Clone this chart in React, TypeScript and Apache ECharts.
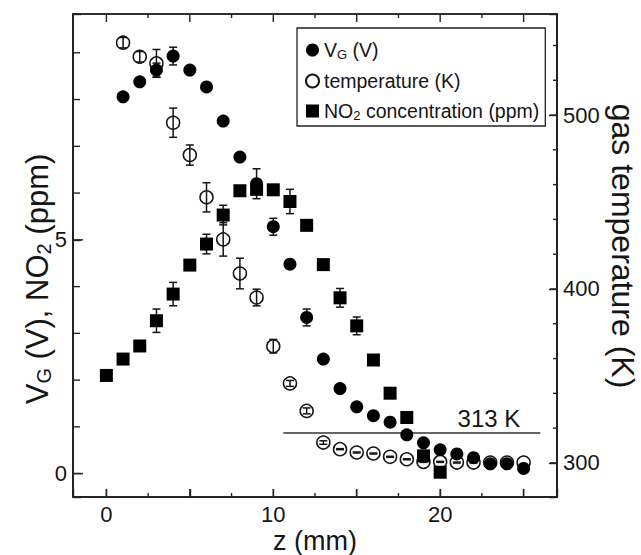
import { useEffect, useRef } from 'react';
import * as echarts from 'echarts';

const FONT = "'Liberation Sans', Arial, Helvetica, sans-serif";
const INK = '#151515';
const AXIS = '#222222';

// z positions (mm) and values
const vgZ = [1, 2, 3, 4, 5, 6, 7, 8, 9, 10, 11, 12, 13, 14, 15, 16, 17, 18, 19, 20, 21, 22, 23, 24, 25];
const vgValues = [8.06, 8.38, 8.63, 8.93, 8.63, 8.27, 7.54, 6.77, 6.2, 5.28, 4.48, 3.34, 2.45, 1.82, 1.43, 1.24, 1.1, 0.83, 0.66, 0.51, 0.42, 0.34, 0.21, 0.21, 0.11];
const vgErrors = [0, 0, 0.15, 0.19, 0, 0, 0, 0, 0.32, 0.18, 0, 0.18, 0, 0, 0, 0, 0, 0, 0, 0, 0, 0, 0, 0, 0];

const tempZ = [1, 2, 3, 4, 5, 6, 7, 8, 9, 10, 11, 12, 13, 14, 15, 16, 17, 18, 19, 20, 21, 22, 23, 24, 25];
const tempValues = [541.6, 533.5, 529.7, 495.6, 477.0, 452.7, 428.5, 408.9, 395.1, 367.1, 345.7, 329.9, 311.7, 307.9, 306.0, 305.4, 303.5, 302.1, 300.6, 300.6, 300.2, 300.2, 300.2, 300.2, 300.2];
const tempErrors = [3, 3, 8, 8.4, 5.8, 8.4, 9.6, 8.8, 4.8, 3.9, 1.7, 1.7, 1, 0.3, 0.3, 0.3, 0.3, 0.3, 0.3, 0.3, 0.3, 0.3, 0, 0, 0];

const no2Z = [0, 1, 2, 3, 4, 5, 6, 7, 8, 9, 10, 11, 12, 13, 14, 15, 16, 17, 18, 19, 20];
const no2Values = [2.1, 2.45, 2.73, 3.27, 3.84, 4.46, 4.91, 5.53, 6.05, 6.08, 6.07, 5.82, 5.31, 4.47, 3.76, 3.16, 2.43, 1.72, 1.2, 0.38, 0.03];
const no2Errors = [0, 0, 0, 0.25, 0.25, 0, 0.21, 0.21, 0, 0, 0, 0.26, 0, 0, 0.2, 0.19, 0, 0, 0, 0, 0];

// axis ranges, tick labels and tick positions
const xRange = [-2, 27];
const leftRange = [-0.5, 9.83];
const rightRange = [280.4, 558.1];
const xTickLabels = ['0', '10', '20'];
const leftTickLabels = ['0', '5'];
const rightTickLabels = ['300', '400', '500'];
const xMajorTicks = [0, 5, 10, 15, 20, 25];
const xMinorTicks = [2.5, 7.5, 12.5, 17.5, 22.5];
const leftMajorTicks = [0, 5];
const leftMinorTicks = [1, 2, 3, 4, 6, 7, 8, 9];
const rightMajorTicks = [300, 400, 500];
const rightMinorTicks = [320, 340, 360, 380, 420, 440, 460, 480, 520, 540];

const refLineT = 317.3;
const refLineZ = [10.6, 26];
const refLineLabel = '313 K';

const GRID = { left: 73, top: 14, width: 484, height: 483 };

const seriesNames = ['VG', 'temperature', 'NO2'];
const legendLabels: Record<string, string> = {
  VG: '{n|V}{s|G}{n| (V)}',
  temperature: '{n|temperature (K)}',
  NO2: '{n|NO}{s|2}{n| concentration (ppm)}',
};

const errData = (zs: number[], vs: number[], es: number[]) =>
  zs
    .map((z, i) => [z, vs[i] - es[i], vs[i] + es[i], es[i]])
    .filter((d) => d[3] > 0)
    .map((d) => [d[0], d[1], d[2]]);

const errorBarRender = (_params: any, api: any) => {
  const x = api.value(0);
  const top = api.coord([x, api.value(2)]);
  const bot = api.coord([x, api.value(1)]);
  const cw = 4;
  const style = { stroke: INK, lineWidth: 1.5, fill: 'none' };
  return {
    type: 'group',
    children: [
      { type: 'line', shape: { x1: top[0], y1: top[1], x2: bot[0], y2: bot[1] }, style },
      { type: 'line', shape: { x1: top[0] - cw, y1: top[1], x2: top[0] + cw, y2: top[1] }, style },
      { type: 'line', shape: { x1: bot[0] - cw, y1: bot[1], x2: bot[0] + cw, y2: bot[1] }, style },
    ],
  };
};

// frame + inward ticks drawn by a custom series through the axis scales:
// one data item [kind, value, length]; kind 0 = frame, 1 = x tick, 2 = left tick
const frameRender = (params: any, api: any) => {
  const kind = api.value(0);
  const v = api.value(1);
  const len = api.value(2);
  const a = api.coord([xRange[0], leftRange[1]]);
  const b = api.coord([xRange[1], leftRange[0]]);
  const st = { stroke: AXIS, lineWidth: kind === 0 ? 1.6 : 1.4, fill: 'none' };
  if (kind === 0) {
    return {
      type: 'polygon',
      shape: { points: [[a[0], a[1]], [b[0], a[1]], [b[0], b[1]], [a[0], b[1]]] },
      style: st,
    };
  }
  if (kind === 1) {
    const px = api.coord([v, leftRange[0]])[0];
    return {
      type: 'group',
      children: [
        { type: 'line', shape: { x1: px, y1: b[1], x2: px, y2: b[1] - len }, style: st },
        { type: 'line', shape: { x1: px, y1: a[1], x2: px, y2: a[1] + len }, style: st },
      ],
    };
  }
  const py = api.coord([xRange[0], v])[1];
  return { type: 'line', shape: { x1: a[0], y1: py, x2: a[0] + len, y2: py }, style: st };
};

const rightTickRender = (_params: any, api: any) => {
  const v = api.value(1);
  const len = api.value(2);
  const p = api.coord([xRange[1], v]);
  return {
    type: 'line',
    shape: { x1: p[0], y1: p[1], x2: p[0] - len, y2: p[1] },
    style: { stroke: AXIS, lineWidth: 1.4, fill: 'none' },
  };
};

const xAxisBase = () => ({
  type: 'value',
  position: 'bottom',
  min: xRange[0],
  max: xRange[1],
  minInterval: 5,
  maxInterval: 5,
  axisLine: { show: true, onZero: false, lineStyle: { color: AXIS, width: 1.6 } },
  axisTick: { show: true, inside: true, length: 8, lineStyle: { color: AXIS, width: 1.4 } },
  axisLabel: {
    show: true,
    margin: 6,
    fontSize: 22,
    color: INK,
    fontFamily: FONT,
    formatter: (v: number) => (xTickLabels.includes(String(v)) ? String(v) : ''),
  },
  splitLine: { show: false },
});

const yAxisBase = (position: string, range: number[], interval: number, labels: string[]) => ({
  type: 'value',
  position,
  min: range[0],
  max: range[1],
  minInterval: interval,
  maxInterval: interval,
  axisLine: { show: true, onZero: false, lineStyle: { color: AXIS, width: 1.6 } },
  axisTick: { show: true, inside: true, length: 8, lineStyle: { color: AXIS, width: 1.4 } },
  axisLabel: {
    show: true,
    margin: 6,
    fontSize: 22,
    color: INK,
    fontFamily: FONT,
    formatter: (v: number) => (labels.includes(String(v)) ? String(v) : ''),
  },
  splitLine: { show: false },
});

export default function App() {
  const ref = useRef<HTMLDivElement>(null);

  useEffect(() => {
    if (!ref.current) return;
    const chart = echarts.init(ref.current, undefined, { renderer: 'svg' });

    const frameData: number[][] = [[0, 0, 0]];
    xMajorTicks.forEach((v) => frameData.push([1, v, 8]));
    xMinorTicks.forEach((v) => frameData.push([1, v, 4]));
    leftMajorTicks.forEach((v) => frameData.push([2, v, 10]));
    leftMinorTicks.forEach((v) => frameData.push([2, v, 7]));
    const rightData: number[][] = [];
    rightMajorTicks.forEach((v) => rightData.push([3, v, 7]));
    rightMinorTicks.forEach((v) => rightData.push([3, v, 4]));

    const richTitle = {
      n: { fontSize: 31, fontFamily: FONT, fill: INK, color: INK, lineHeight: 34 },
      s: { fontSize: 20, fontFamily: FONT, fill: INK, color: INK, lineHeight: 14, verticalAlign: 'bottom' },
    };

    const option: any = {
      animation: false,
      textStyle: { fontFamily: FONT },
      grid: {
        ...GRID,
        containLabel: false,
        show: true,
        borderColor: AXIS,
        borderWidth: 1.6,
        backgroundColor: 'rgba(0,0,0,0)',
      },
      xAxis: [xAxisBase()],
      yAxis: [
        yAxisBase('left', leftRange, 5, leftTickLabels),
        yAxisBase('right', rightRange, 100, rightTickLabels),
      ],
      legend: {
        data: seriesNames,
        orient: 'vertical',
        left: 297,
        top: 28,
        itemWidth: 13,
        itemHeight: 13,
        itemGap: 10,
        padding: [12, 6, 4, 8],
        borderColor: AXIS,
        borderWidth: 1.3,
        selectedMode: false,
        formatter: (name: string) => legendLabels[name],
        textStyle: {
          fontSize: 19.5,
          color: INK,
          fontFamily: FONT,
          rich: {
            n: { fontSize: 19.5, lineHeight: 22, color: INK, fontFamily: FONT },
            s: { fontSize: 13, lineHeight: 10, verticalAlign: 'bottom', color: INK, fontFamily: FONT },
          },
        },
      },
      series: [
        {
          name: 'frame',
          type: 'custom',
          z: 10,
          silent: true,
          clip: false,
          renderItem: frameRender,
          encode: { x: -1, y: -1 },
          dimensions: ['kind', 'value', 'len'],
          data: frameData,
        },
        {
          name: 'rightTicks',
          type: 'custom',
          yAxisIndex: 1,
          z: 10,
          silent: true,
          clip: false,
          renderItem: rightTickRender,
          encode: { x: -1, y: -1 },
          dimensions: ['kind', 'value', 'len'],
          data: rightData,
        },
        {
          name: 'temperature',
          type: 'scatter',
          yAxisIndex: 1,
          symbol: 'circle',
          symbolSize: 13,
          z: 2,
          itemStyle: { color: '#ffffff', borderColor: INK, borderWidth: 1.5, opacity: 1 },
          emphasis: { disabled: true },
          data: tempZ.map((z, i) => [z, tempValues[i]]),
          markLine: {
            silent: true,
            symbol: ['none', 'none'],
            lineStyle: { color: '#333333', width: 1.5, type: 'solid' },
            label: {
              show: true,
              position: 'insideEndTop',
              formatter: refLineLabel,
              fontSize: 24,
              color: INK,
              fontFamily: FONT,
              distance: 2,
              padding: [0, 18, 0, 0],
            },
            data: [[{ coord: [refLineZ[0], refLineT] }, { coord: [refLineZ[1], refLineT] }]],
          },
        },
        {
          name: 'temperatureErr',
          type: 'custom',
          yAxisIndex: 1,
          z: 3,
          silent: true,
          renderItem: errorBarRender,
          encode: { x: 0, y: [1, 2] },
          data: errData(tempZ, tempValues, tempErrors),
        },
        {
          name: 'NO2Err',
          type: 'custom',
          z: 3,
          silent: true,
          renderItem: errorBarRender,
          encode: { x: 0, y: [1, 2] },
          data: errData(no2Z, no2Values, no2Errors),
        },
        {
          name: 'NO2',
          type: 'scatter',
          symbol: 'rect',
          symbolSize: 13,
          z: 4,
          itemStyle: { color: '#000000', opacity: 1 },
          emphasis: { disabled: true },
          data: no2Z.map((z, i) => [z, no2Values[i]]),
        },
        {
          name: 'VGErr',
          type: 'custom',
          z: 4,
          silent: true,
          renderItem: errorBarRender,
          encode: { x: 0, y: [1, 2] },
          data: errData(vgZ, vgValues, vgErrors),
        },
        {
          name: 'VG',
          type: 'scatter',
          symbol: 'circle',
          symbolSize: 13,
          z: 5,
          itemStyle: { color: '#000000', opacity: 1 },
          emphasis: { disabled: true },
          data: vgZ.map((z, i) => [z, vgValues[i]]),
        },
      ],
      graphic: [
        {
          type: 'text',
          x: 37,
          y: 279,
          rotation: Math.PI / 2,
          style: {
            text: '{n|V}{s|G}{n| (V), NO}{s|2}{n| (ppm)}',
            rich: richTitle,
            fontSize: 31,
            fontFamily: FONT,
            fill: INK,
            align: 'center',
            verticalAlign: 'middle',
          },
        },
        {
          type: 'text',
          x: 623,
          y: 246,
          rotation: -Math.PI / 2,
          style: {
            text: 'gas temperature (K)',
            fontSize: 32,
            fontFamily: FONT,
            fill: INK,
            align: 'center',
            verticalAlign: 'middle',
          },
        },
        {
          type: 'text',
          x: 315,
          y: 541,
          style: {
            text: 'z (mm)',
            fontSize: 27,
            fontFamily: FONT,
            fill: INK,
            align: 'center',
            verticalAlign: 'middle',
          },
        },
      ],
    };

    chart.setOption(option);
    return () => chart.dispose();
  }, []);

  return (
    <div
      ref={ref}
      style={{ position: 'fixed', left: 0, top: 0, width: 641, height: 555, background: '#ffffff' }}
    />
  );
}
